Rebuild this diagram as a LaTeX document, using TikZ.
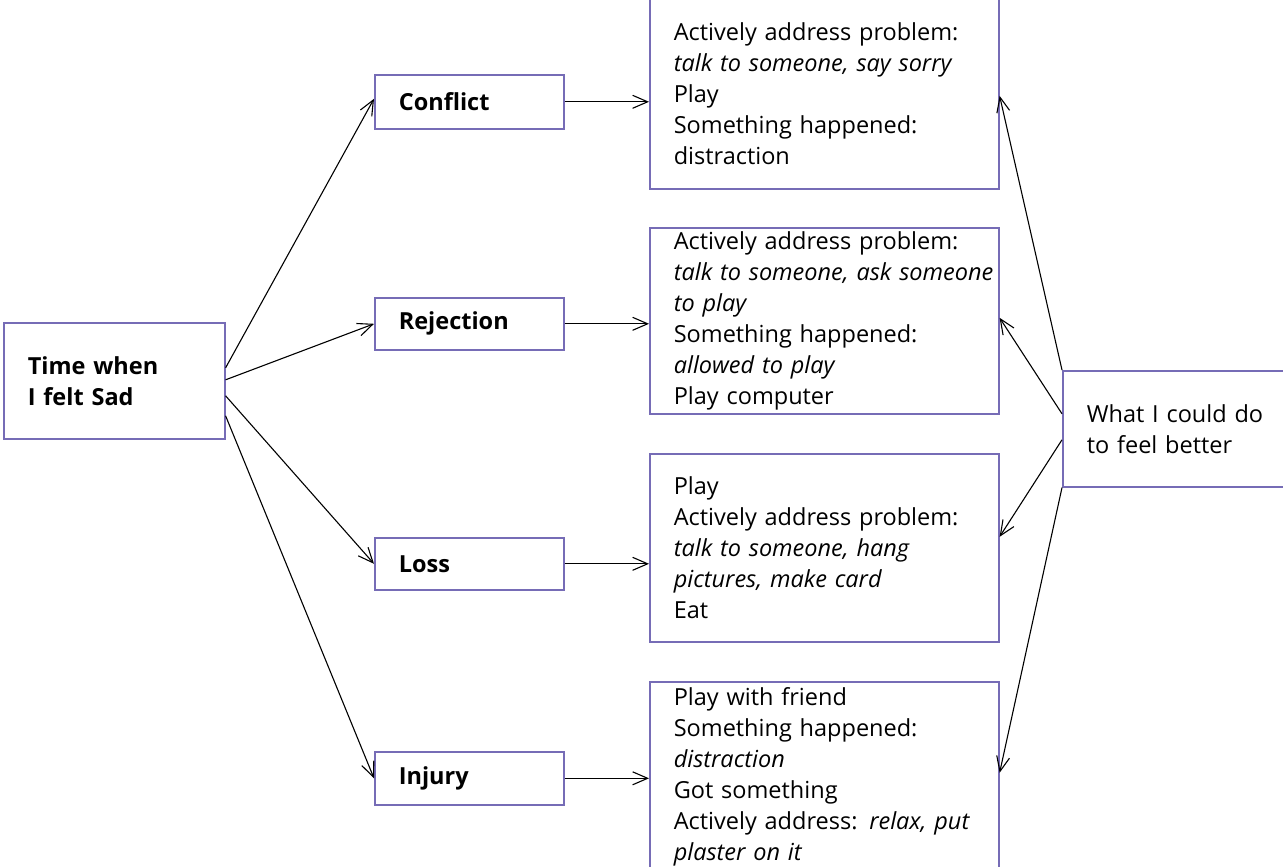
\documentclass[tikz,border=0pt]{standalone}
\usepackage{fontspec}
\setmainfont{Open Sans}
\usetikzlibrary{arrows.meta}
\definecolor{boxline}{RGB}{118,108,182}
\tikzset{
  box/.style={draw=boxline, line width=1.6pt, rectangle, anchor=north west,
    inner xsep=24pt, inner ysep=0pt, align=left,
    font=\fontsize{23.5}{31}\selectfont},
  conn/.style={draw=black, line width=1.1pt,
    -{Straight Barb[length=15pt,width=13pt,line width=1.1pt]}},
}
\newcommand{\oneline}[1]{\mbox{#1}}
\begin{document}
\begin{tikzpicture}[x=1pt,y=-1pt]
\useasboundingbox (0,0) rectangle (1283,867);
\clip (0,0) rectangle (1283,867);

% starting box
\node[box, text width=173pt, minimum height=116pt] (time) at (3,322)
  {\bfseries Time when\\\bfseries I felt Sad};

% kinds of sad situations
\node[box, text width=141pt, minimum height=54pt] (conflict) at (374,74) {\bfseries Conflict};
\node[box, text width=141pt, minimum height=52pt] (rejection) at (374,297) {\bfseries Rejection};
\node[box, text width=141pt, minimum height=52pt] (loss) at (374,537) {\bfseries Loss};
\node[box, text width=141pt, minimum height=53pt] (injury) at (374,751) {\bfseries Injury};

% what helped in each situation
\node[box, text width=301pt, minimum height=190pt] (ans1) at (649,-2)
  {\oneline{Actively address problem:}\\ \oneline{\itshape talk to someone, say sorry}\\ Play\\ \oneline{Something happened:}\\ distraction};
\node[box, text width=301pt, minimum height=186pt] (ans2) at (649,227)
  {\oneline{Actively address problem:}\\ \oneline{\itshape talk to someone, ask someone}\\ \oneline{\itshape to play}\\ \oneline{Something happened:}\\ \oneline{\itshape allowed to play}\\ \oneline{Play computer}};
\node[box, text width=301pt, minimum height=188pt] (ans3) at (649,453)
  {Play\\ \oneline{Actively address problem:}\\ \oneline{\itshape talk to someone, hang}\\ \oneline{\itshape pictures, make card}\\ Eat};
\node[box, text width=301pt, minimum height=190pt] (ans4) at (649,681)
  {\oneline{Play with friend}\\ \oneline{Something happened:}\\ \oneline{\itshape distraction}\\ \oneline{Got something}\\ \oneline{Actively address: \textit{relax, put}}\\ \oneline{\itshape plaster on it}};

% summary box on the right
\node[box, text width=192pt, minimum height=116pt] (what) at (1062,370)
  {\oneline{What I could do}\\ \oneline{to feel better}};

% from the feeling to the situations
\draw[conn] ([yshift=13pt]time.east) -- ([yshift=3pt]conflict.west);
\draw[conn] ([yshift=1pt]time.east) -- (rejection.west);
\draw[conn] ([yshift=-15pt]time.east) -- (loss.west);
\draw[conn] ([yshift=-35pt]time.east) -- (injury.west);

% from the situations to their remedies
\draw[conn] (conflict.east) -- (ans1.west |- conflict.east);
\draw[conn] (rejection.east) -- (ans2.west |- rejection.east);
\draw[conn] (loss.east) -- (ans3.west |- loss.east);
\draw[conn] (injury.east) -- (ans4.west |- injury.east);

% from the summary back to each remedy
\draw[conn] (what.north west) -- ([yshift=-2pt]ans1.east);
\draw[conn] ([yshift=15pt]what.west) -- ([yshift=3pt]ans2.east);
\draw[conn] ([yshift=-11pt]what.west) -- ([yshift=11pt]ans3.east);
\draw[conn] (what.south west) -- ([yshift=4pt]ans4.east);
\end{tikzpicture}
\end{document}
